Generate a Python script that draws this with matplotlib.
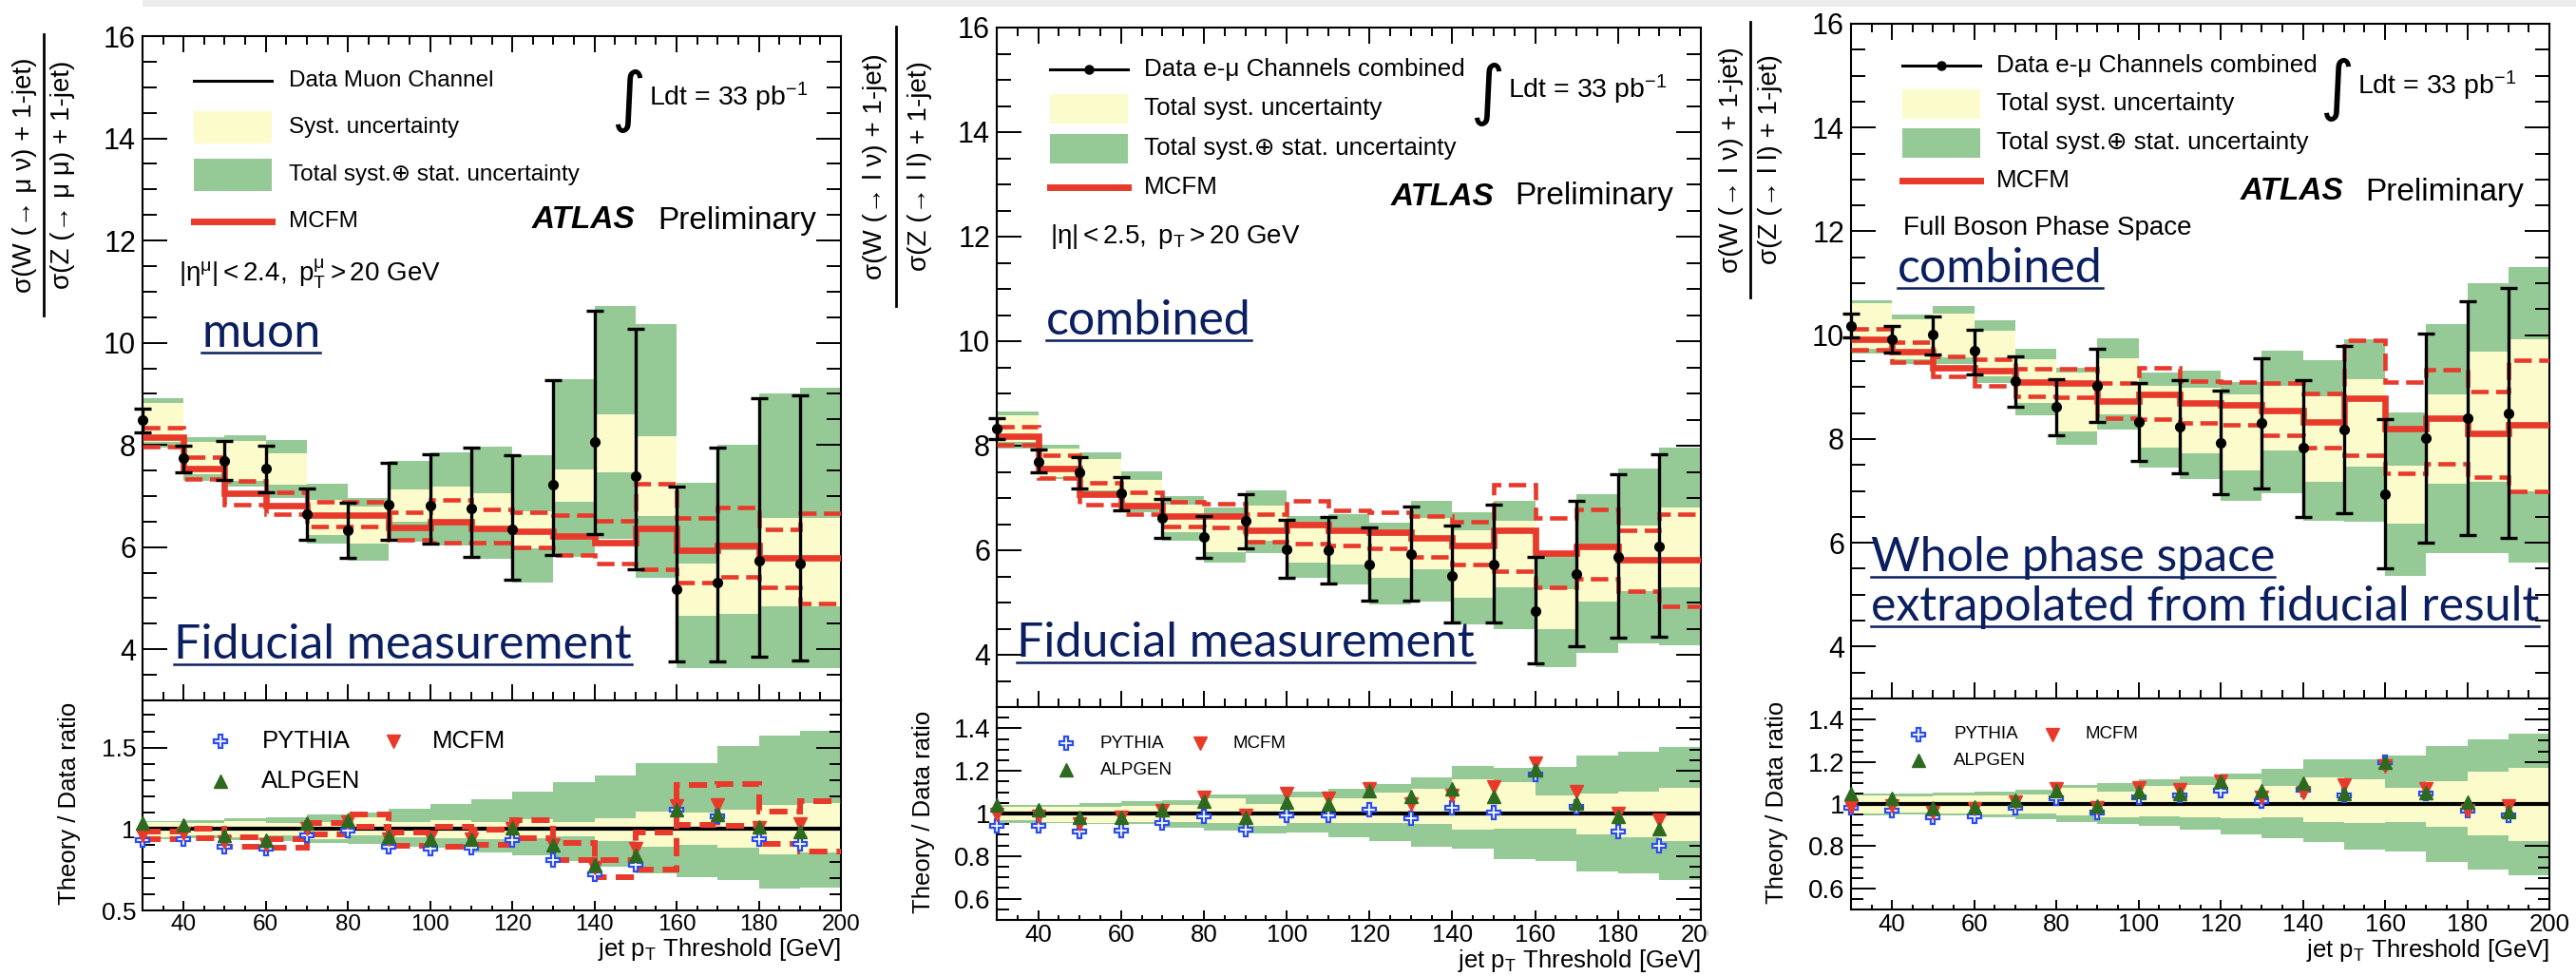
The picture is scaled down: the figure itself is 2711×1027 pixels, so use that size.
import numpy as np
import matplotlib
matplotlib.use("Agg")
import matplotlib.pyplot as plt
from matplotlib.lines import Line2D
from matplotlib.patches import Rectangle
from matplotlib.ticker import MultipleLocator

W, H = 2711, 1027
plt.rcParams['font.family'] = ['Liberation Sans', 'DejaVu Sans']
plt.rcParams['mathtext.fontset'] = 'custom'
plt.rcParams['mathtext.rm'] = 'Liberation Sans'
plt.rcParams['mathtext.it'] = 'Liberation Sans:italic'
plt.rcParams['mathtext.bf'] = 'Liberation Sans:bold'

# ---------------- data ----------------
pt_thr = [30, 40, 50, 60, 70, 80, 90, 100, 110, 120, 130, 140, 150, 160, 170, 180, 190]
edges = [30, 40, 50, 60, 70, 80, 90, 100, 110, 120, 130, 140, 150, 160, 170, 180, 190, 200]

# Panel 1: muon channel, fiducial
mu_data = [8.48, 7.75, 7.69, 7.53, 6.64, 6.32, 6.84, 6.82, 6.75, 6.34, 7.22, 8.05, 7.39, 5.17, 5.30, 5.73, 5.68]
mu_err_hi = [8.71, 7.99, 8.07, 7.99, 7.15, 6.86, 7.65, 7.82, 7.94, 7.79, 9.27, 10.63, 10.27, 7.19, 7.94, 8.91, 8.97]
mu_err_lo = [8.24, 7.46, 7.32, 7.07, 6.14, 5.79, 6.14, 6.07, 5.81, 5.36, 5.84, 6.26, 5.56, 3.77, 3.77, 3.85, 3.79]
mu_tot_hi = [8.91, 8.16, 8.18, 8.09, 7.24, 6.96, 7.69, 7.86, 7.97, 7.80, 9.28, 10.71, 10.37, 7.26, 8.00, 9.01, 9.12]
mu_tot_lo = [7.94, 7.30, 7.18, 6.96, 6.07, 5.73, 6.11, 6.04, 5.77, 5.30, 5.80, 6.17, 5.39, 3.64, 3.64, 3.64, 3.64]
mu_sys_hi = [8.82, 8.05, 8.07, 7.83, 6.92, 6.79, 7.13, 7.18, 7.05, 6.71, 7.52, 8.60, 8.17, 5.68, 5.94, 6.58, 6.58]
mu_sys_lo = [8.05, 7.43, 7.30, 7.22, 6.24, 6.07, 6.49, 6.45, 6.32, 5.98, 6.88, 7.47, 6.60, 4.66, 4.70, 4.85, 4.85]
mu_mcfm = [8.16, 7.54, 7.05, 6.81, 6.62, 6.62, 6.39, 6.49, 6.37, 6.31, 6.21, 6.09, 6.37, 5.94, 6.04, 5.79, 5.79]
mu_mcfm_hi = [8.34, 7.77, 7.30, 7.07, 6.88, 6.88, 6.69, 6.92, 6.73, 6.69, 6.62, 6.51, 7.24, 6.58, 6.77, 6.35, 6.66]
mu_mcfm_lo = [7.97, 7.33, 6.84, 6.65, 6.41, 6.41, 6.14, 6.09, 6.09, 6.00, 5.84, 5.68, 5.56, 5.30, 5.41, 5.22, 4.90]
mu_pythia = [0.93, 0.94, 0.89, 0.88, 0.96, 0.99, 0.89, 0.88, 0.885, 0.93, 0.81, 0.72, 0.78, 1.12, 1.08, 0.94, 0.91]
mu_alpgen = [1.035, 1.025, 0.96, 0.93, 1.035, 1.055, 0.955, 0.94, 0.94, 1.01, 0.90, 0.78, 0.84, 1.12, 1.09, 1.015, 0.985]
mu_mcfm_r = [0.96, 0.975, 0.92, 0.905, 1.0, 1.045, 0.935, 0.95, 0.94, 1.0, 0.90, 0.76, 0.88, 1.14, 1.15, 1.01, 1.03]

# Panel 2: e-mu combined, fiducial
co_data = [8.33, 7.70, 7.49, 7.09, 6.62, 6.25, 6.56, 6.02, 6.00, 5.72, 5.93, 5.51, 5.72, 4.84, 5.55, 5.87, 6.08]
co_err_hi = [8.52, 7.92, 7.78, 7.40, 6.98, 6.65, 7.07, 6.59, 6.64, 6.44, 6.84, 6.48, 6.87, 5.87, 6.94, 7.46, 7.84]
co_err_lo = [8.12, 7.49, 7.19, 6.77, 6.24, 5.85, 6.03, 5.47, 5.36, 5.03, 5.03, 4.61, 4.61, 3.83, 4.17, 4.32, 4.35]
co_tot_hi = [8.66, 8.02, 7.87, 7.51, 7.03, 6.82, 7.15, 6.65, 6.69, 6.52, 6.94, 6.73, 6.94, 5.89, 7.07, 7.57, 7.97]
co_tot_lo = [7.95, 7.36, 7.11, 6.73, 6.18, 5.76, 5.95, 5.47, 5.34, 4.97, 5.01, 4.59, 4.50, 3.76, 4.04, 4.21, 4.18]
co_sys_hi = [8.58, 7.95, 7.74, 7.34, 6.88, 6.69, 6.86, 6.48, 6.44, 6.27, 6.61, 6.39, 6.56, 5.26, 6.06, 6.48, 6.82]
co_sys_lo = [8.08, 7.40, 7.15, 6.82, 6.35, 5.97, 6.18, 5.76, 5.72, 5.47, 5.64, 5.09, 5.30, 4.50, 5.01, 5.22, 5.30]
co_mcfm = [8.18, 7.57, 7.07, 6.86, 6.66, 6.65, 6.39, 6.50, 6.39, 6.34, 6.23, 6.10, 6.38, 5.95, 6.08, 5.81, 5.81]
co_mcfm_hi = [8.37, 7.82, 7.29, 7.11, 6.92, 6.90, 6.69, 6.94, 6.77, 6.73, 6.66, 6.54, 7.26, 6.61, 6.79, 6.39, 6.69]
co_mcfm_lo = [8.02, 7.39, 6.87, 6.69, 6.46, 6.44, 6.17, 6.12, 6.10, 6.03, 5.87, 5.72, 5.60, 5.30, 5.45, 5.22, 4.92]
co_pythia = [0.943, 0.943, 0.917, 0.918, 0.955, 0.988, 0.924, 0.993, 0.993, 1.018, 0.978, 1.025, 1.006, 1.185, 1.033, 0.917, 0.847]
co_alpgen = [1.04, 1.02, 0.98, 0.98, 1.02, 1.058, 0.984, 1.055, 1.043, 1.107, 1.08, 1.115, 1.08, 1.207, 1.048, 0.985, 0.929]
co_mcfm_r = [0.996, 0.988, 0.951, 0.98, 1.013, 1.077, 0.993, 1.092, 1.073, 1.115, 1.043, 1.085, 1.126, 1.237, 1.103, 0.999, 0.969]

# Panel 3: e-mu combined, full boson phase space
fb_data = [10.18, 9.93, 10.01, 9.70, 9.11, 8.62, 9.03, 8.32, 8.24, 7.93, 8.31, 7.84, 8.18, 6.94, 8.01, 8.41, 8.49]
fb_err_hi = [10.42, 10.18, 10.36, 10.11, 9.60, 9.15, 9.74, 9.07, 9.13, 8.94, 9.55, 9.13, 9.80, 8.39, 10.04, 10.66, 10.91]
fb_err_lo = [9.96, 9.66, 9.62, 9.24, 8.62, 8.08, 8.33, 7.57, 7.34, 6.94, 7.04, 6.49, 6.57, 5.50, 6.01, 6.15, 6.09]
fb_tot_hi = [10.67, 10.40, 10.56, 10.28, 9.74, 9.38, 9.94, 9.28, 9.31, 9.09, 9.70, 9.51, 9.93, 8.52, 10.21, 11.00, 11.31]
fb_tot_lo = [9.64, 9.45, 9.45, 9.07, 8.45, 7.89, 8.18, 7.45, 7.23, 6.80, 6.96, 6.43, 6.41, 5.37, 5.81, 5.81, 5.62]
fb_sys_hi = [10.61, 10.31, 10.42, 10.08, 9.53, 9.28, 9.56, 9.03, 8.98, 8.86, 9.03, 8.83, 9.15, 7.48, 8.86, 9.68, 9.93]
fb_sys_lo = [9.74, 9.53, 9.58, 9.20, 8.69, 8.14, 8.48, 7.84, 7.73, 7.39, 7.78, 7.17, 7.46, 6.36, 7.14, 7.17, 7.00]
fb_mcfm = [9.93, 9.68, 9.38, 9.31, 9.09, 9.07, 8.73, 8.86, 8.69, 8.65, 8.54, 8.32, 8.79, 8.20, 8.41, 8.10, 8.27]
fb_mcfm_hi = [10.12, 9.87, 9.59, 9.53, 9.35, 9.35, 9.08, 9.38, 9.11, 9.09, 9.07, 8.87, 9.91, 9.09, 9.34, 8.92, 9.51]
fb_mcfm_lo = [9.72, 9.49, 9.20, 9.03, 8.83, 8.80, 8.41, 8.38, 8.31, 8.27, 8.07, 7.84, 7.69, 7.34, 7.53, 7.27, 7.00]
fb_pythia = [0.98, 0.97, 0.936, 0.943, 0.984, 1.028, 0.958, 1.03, 1.04, 1.063, 1.015, 1.066, 1.04, 1.2, 1.048, 0.969, 0.946]
fb_alpgen = [1.048, 1.025, 0.98, 0.988, 1.018, 1.063, 0.993, 1.058, 1.048, 1.107, 1.063, 1.1, 1.048, 1.197, 1.055, 1.01, 0.966]
fb_mcfm_r = [0.988, 0.991, 0.958, 0.976, 1.007, 1.07, 0.98, 1.078, 1.067, 1.107, 1.03, 1.055, 1.088, 1.178, 1.07, 0.969, 0.991]

# ---------------- style ----------------
YEL = '#fbfbcc'
GRN = '#95c995'
RED = '#e83a2b'
BLUE = '#2a4cf0'
DGRN = '#2d6a1f'
NAVY = '#0b1f60'

fig = plt.figure(figsize=(W / 100, H / 100), dpi=100)
fig.patch.set_facecolor('white')


def add_ax(x0, x1, ytop, ybot):
    return fig.add_axes([x0 / W, 1 - ybot / H, (x1 - x0) / W, (ybot - ytop) / H])


def ftext(x, y, s, **kw):
    return fig.text(x / W, 1 - y / H, s, **kw)


def fline(x0, x1, y, **kw):
    fig.add_artist(Line2D([x0 / W, x1 / W], [1 - y / H, 1 - y / H], transform=fig.transFigure, **kw))


def frect(x0, x1, y0, y1, **kw):
    fig.add_artist(Rectangle((x0 / W, 1 - y1 / H), (x1 - x0) / W, (y1 - y0) / H,
                             transform=fig.transFigure, **kw))


def style_main(ax, lab):
    ax.set_xlim(30, 200)
    ax.set_ylim(3, 16)
    ax.xaxis.set_major_locator(MultipleLocator(20))
    ax.xaxis.set_minor_locator(MultipleLocator(5))
    ax.yaxis.set_major_locator(MultipleLocator(2))
    ax.yaxis.set_minor_locator(MultipleLocator(0.5))
    ax.tick_params(which='both', direction='in', top=True, right=True, labelbottom=False, width=1.4)
    ax.tick_params(axis='y', which='major', length=19, labelsize=lab, pad=5)
    ax.tick_params(axis='y', which='minor', length=10.5)
    ax.tick_params(axis='x', which='major', length=12)
    ax.tick_params(axis='x', which='minor', length=6.5)
    for s in ax.spines.values():
        s.set_linewidth(1.5)


def style_ratio(ax, ylim, major, minor, ylab, xlab):
    ax.set_xlim(30, 200)
    ax.set_ylim(*ylim)
    ax.xaxis.set_major_locator(MultipleLocator(20))
    ax.xaxis.set_minor_locator(MultipleLocator(5))
    ax.yaxis.set_major_locator(MultipleLocator(major))
    ax.yaxis.set_minor_locator(MultipleLocator(minor))
    ax.tick_params(which='both', direction='in', top=False, right=True, width=1.4)
    ax.tick_params(axis='y', which='major', length=19, labelsize=ylab, pad=5)
    ax.tick_params(axis='y', which='minor', length=9)
    ax.tick_params(axis='x', which='major', length=7, labelsize=xlab, pad=3)
    ax.tick_params(axis='x', which='minor', length=3.5)
    ax.yaxis.set_major_formatter(plt.FuncFormatter(lambda v, p: ('%g' % round(v, 2))))
    for s in ax.spines.values():
        s.set_linewidth(1.5)


def draw_main(ax, data, ehi, elo, thi, tlo, shi, slo, m, mhi, mlo):
    data = np.array(data); ehi = np.array(ehi); elo = np.array(elo)
    thi = np.array(thi); tlo = np.array(tlo); shi = np.array(shi); slo = np.array(slo)
    ax.bar(edges[:-1], thi - tlo, bottom=tlo, width=10, align='edge', color=GRN, linewidth=0, zorder=1)
    ax.bar(edges[:-1], shi - slo, bottom=slo, width=10, align='edge', color=YEL, linewidth=0, zorder=2)
    ax.stairs(mhi, edges, baseline=None, color=RED, lw=3.3, ls=(0, (4, 1.7)), zorder=3)
    ax.stairs(mlo, edges, baseline=None, color=RED, lw=3.3, ls=(0, (4, 1.7)), zorder=3)
    ax.stairs(m, edges, baseline=None, color=RED, lw=4.8, zorder=4)
    ax.errorbar(pt_thr, data, yerr=[data - elo, ehi - data], fmt='o', color='k', ms=7,
                elinewidth=2.4, capsize=6.5, capthick=2.4, clip_on=False, zorder=6)


def draw_ratio(ax, data, thi, tlo, shi, slo, py, alp, mr, mhi=None, mlo=None, ms=10.5):
    data = np.array(data)
    rthi = np.array(thi) / data; rtlo = np.array(tlo) / data
    rshi = np.array(shi) / data; rslo = np.array(slo) / data
    ax.bar(edges[:-1], rthi - rtlo, bottom=rtlo, width=10, align='edge', color=GRN, linewidth=0, zorder=1)
    ax.bar(edges[:-1], rshi - rslo, bottom=rslo, width=10, align='edge', color=YEL, linewidth=0, zorder=2)
    ax.axhline(1.0, color='k', lw=3, zorder=3)
    if mhi is not None:
        ax.stairs(np.array(mhi) / data, edges, baseline=None, color=RED, lw=4.3, ls=(0, (3.2, 1.6)), zorder=4)
        ax.stairs(np.array(mlo) / data, edges, baseline=None, color=RED, lw=4.3, ls=(0, (3.2, 1.6)), zorder=4)
    ax.plot(pt_thr, py, 'P', ls='none', mfc='white', mec=BLUE, mew=1.6, ms=ms, zorder=5, clip_on=False)
    ax.plot(pt_thr, mr, 'v', ls='none', color=RED, ms=ms, zorder=6, clip_on=False)
    ax.plot(pt_thr, alp, '^', ls='none', color=DGRN, ms=ms, zorder=7, clip_on=False)


def ratio_legend(ax, xm1, xt1, xm2, xt2, y1, y2, fs, ms=10.5):
    ax.plot([xm1], [y1], 'P', mfc='white', mec=BLUE, mew=1.6, ms=ms)
    ax.text(xt1, y1, 'PYTHIA', fontsize=fs, va='center', ha='left')
    ax.plot([xm2], [y1], 'v', color=RED, ms=ms)
    ax.text(xt2, y1, 'MCFM', fontsize=fs, va='center', ha='left')
    ax.plot([xm1], [y2], '^', color=DGRN, ms=ms)
    ax.text(xt1, y2, 'ALPGEN', fontsize=fs, va='center', ha='left')


# top grey strip
frect(150, 2711, 0, 7, color='#ececec', lw=0, zorder=0)

# ---------------- panel 1 ----------------
a1 = add_ax(150, 885, 38, 737)
style_main(a1, 22)
draw_main(a1, mu_data, mu_err_hi, mu_err_lo, mu_tot_hi, mu_tot_lo, mu_sys_hi, mu_sys_lo,
          mu_mcfm, mu_mcfm_hi, mu_mcfm_lo)
r1 = add_ax(150, 885, 737, 958)
style_ratio(r1, (0.5, 1.79), 0.5, 0.1, 19, 17.5)
draw_ratio(r1, mu_data, mu_tot_hi, mu_tot_lo, mu_sys_hi, mu_sys_lo, mu_pythia, mu_alpgen, mu_mcfm_r,
           mu_mcfm_hi, mu_mcfm_lo)
ratio_legend(r1, 49, 59, 91, 100.5, 1.54, 1.295, 18.5)

# ---------------- panel 2 ----------------
a2 = add_ax(1049, 1790, 29, 744)
style_main(a2, 22)
draw_main(a2, co_data, co_err_hi, co_err_lo, co_tot_hi, co_tot_lo, co_sys_hi, co_sys_lo,
          co_mcfm, co_mcfm_hi, co_mcfm_lo)
r2 = add_ax(1049, 1790, 744, 968)
style_ratio(r2, (0.5, 1.5), 0.2, 0.05, 20, 18.5)
draw_ratio(r2, co_data, co_tot_hi, co_tot_lo, co_sys_hi, co_sys_lo, co_pythia, co_alpgen, co_mcfm_r, ms=10)
ratio_legend(r2, 46.8, 55, 79, 87, 1.33, 1.205, 13.5, ms=10)

# ---------------- panel 3 ----------------
a3 = add_ax(1948, 2683, 25, 735)
style_main(a3, 22)
draw_main(a3, fb_data, fb_err_hi, fb_err_lo, fb_tot_hi, fb_tot_lo, fb_sys_hi, fb_sys_lo,
          fb_mcfm, fb_mcfm_hi, fb_mcfm_lo)
r3 = add_ax(1948, 2683, 735, 957)
style_ratio(r3, (0.5, 1.5), 0.2, 0.05, 20, 18.5)
draw_ratio(r3, fb_data, fb_tot_hi, fb_tot_lo, fb_sys_hi, fb_sys_lo, fb_pythia, fb_alpgen, fb_mcfm_r, ms=10)
ratio_legend(r3, 46.4, 55, 79, 87, 1.33, 1.205, 13.5, ms=10)

# ---------------- axis titles ----------------
for xc, yc in [(73, 845), (972, 854), (1870, 844)]:
    ftext(xc, yc, 'Theory / Data ratio', fontsize=18.5, rotation=90, ha='center', va='center')


def frac_label(xn, xb, xd, yc, half, num, den, fs=20):
    ftext(xn, yc, num, fontsize=fs, rotation=90, ha='center', va='center')
    ftext(xd, yc, den, fontsize=fs, rotation=90, ha='center', va='center')
    fig.add_artist(Line2D([xb / W, xb / W], [1 - (yc - half) / H, 1 - (yc + half) / H],
                          transform=fig.transFigure, color='k', lw=2))


frac_label(26, 46, 66, 184, 148, 'σ(W (→ μ ν) + 1-jet)', 'σ(Z (→ μ μ) + 1-jet)')
frac_label(921, 943, 968, 175, 147, 'σ(W (→ l ν) + 1-jet)', 'σ(Z (→ l l) + 1-jet)')
frac_label(1822, 1842, 1863, 168, 145, 'σ(W (→ l ν) + 1-jet)', 'σ(Z (→ l l) + 1-jet)')

# ---------------- legends / labels in main panels ----------------


def main_legend(x0, x1, xt, yd, yy, yg, yr, hbox, txt, with_dot, fs):
    fline(x0, x1, yd, color='k', lw=2.2)
    if with_dot:
        fig.add_artist(Line2D([(x0 + x1) / 2 / W], [1 - yd / H], transform=fig.transFigure,
                              marker='o', color='k', ms=6.5))
    ftext(xt, yd, txt[0], fontsize=fs, va='center')
    frect(x0, x1, yy - hbox / 2, yy + hbox / 2, color=YEL, lw=0)
    ftext(xt, yy, txt[1], fontsize=fs, va='center')
    frect(x0, x1, yg - hbox / 2, yg + hbox / 2, color=GRN, lw=0)
    ftext(xt, yg, txt[2], fontsize=fs, va='center')
    fline(x0, x1, yr, color=RED, lw=5)
    ftext(xt, yr, 'MCFM', fontsize=fs, va='center')


main_legend(204, 286, 304, 85, 134, 184, 233, 34,
            ['Data Muon Channel', 'Syst. uncertainty', 'Total syst.⊕ stat. uncertainty'], False, 17.5)
main_legend(1105, 1187, 1204, 73, 114, 156, 197, 31,
            ['Data e-μ Channels combined', 'Total syst. uncertainty', 'Total syst.⊕ stat. uncertainty'], True, 18.7)
main_legend(2002, 2084, 2101, 69, 109, 150, 190, 31,
            ['Data e-μ Channels combined', 'Total syst. uncertainty', 'Total syst.⊕ stat. uncertainty'], True, 18.7)


def lumi(xi, yi, xt, yt):
    ftext(xi, yi, '∫', fontsize=50, ha='center', va='center', family=['DejaVu Sans'])
    ftext(xt, yt, r'Ldt = 33 pb$^{-1}$', fontsize=20.5, ha='left', va='center')


lumi(661, 106, 683, 102)
lumi(1565, 99, 1587, 94)
lumi(2459, 94, 2481, 90)


def atlas(xa, xp, y):
    ftext(xa, y, 'ATLAS', fontsize=24, weight='bold', style='italic', va='center')
    ftext(xp, y, 'Preliminary', fontsize=24, va='center')


atlas(560, 692, 232)
atlas(1464, 1594, 207)
atlas(2358, 2489, 202)

ftext(188, 288, r'$\mathrm{|\eta^{\mu}| < 2.4,\ p^{\mu}_{T} > 20\ GeV}$', fontsize=20, va='center')
ftext(1105, 249, r'$\mathrm{|\eta| < 2.5,\ p_{T} > 20\ GeV}$', fontsize=20, va='center')
ftext(2003, 240, 'Full Boson Phase Space', fontsize=20, va='center')

# ---------------- blue slide annotations ----------------
BFS = 36
blue = [(212, 365, 'muon'), (183, 693, 'Fiducial measurement'),
        (1101, 352, 'combined'), (1070, 691, 'Fiducial measurement'),
        (1997, 297, 'combined'), (1969, 601, 'Whole phase space'),
        (1969, 653, 'extrapolated from fiducial result')]
btexts = []
for x, y, s in blue:
    t = ftext(x, y, s, fontsize=BFS, color=NAVY, family=['Lato', 'DejaVu Sans'], va='baseline', ha='left')
    btexts.append((t, y))

# white covers for clipped tick labels at the edges of the original images
frect(904, 918, 960, 995, color='white', lw=0, zorder=10)
frect(1798, 1815, 960, 1000, color='white', lw=0, zorder=10)

fig.canvas.draw()
rend = fig.canvas.get_renderer()
for t, y in btexts:
    bb = t.get_window_extent(rend)
    fline(bb.x0, bb.x1, y + 6, color=NAVY, lw=1.8)

# x-axis titles just below the tick labels of each ratio panel
XL = r'jet p$_{\rm T}$ Threshold [GeV]'
for rax, xr, fs in [(r1, 885, 18.5), (r2, 1790, 18.5), (r3, 2683, 18.5)]:
    lows = [tl.get_window_extent(rend).y0 for tl in rax.get_xticklabels() if tl.get_text()]
    ytop_disp = min(lows) - 1
    fig.text(xr / W, ytop_disp / H, XL, fontsize=fs, ha='right', va='top')

fig.savefig('out.png', dpi=100, facecolor='white')
